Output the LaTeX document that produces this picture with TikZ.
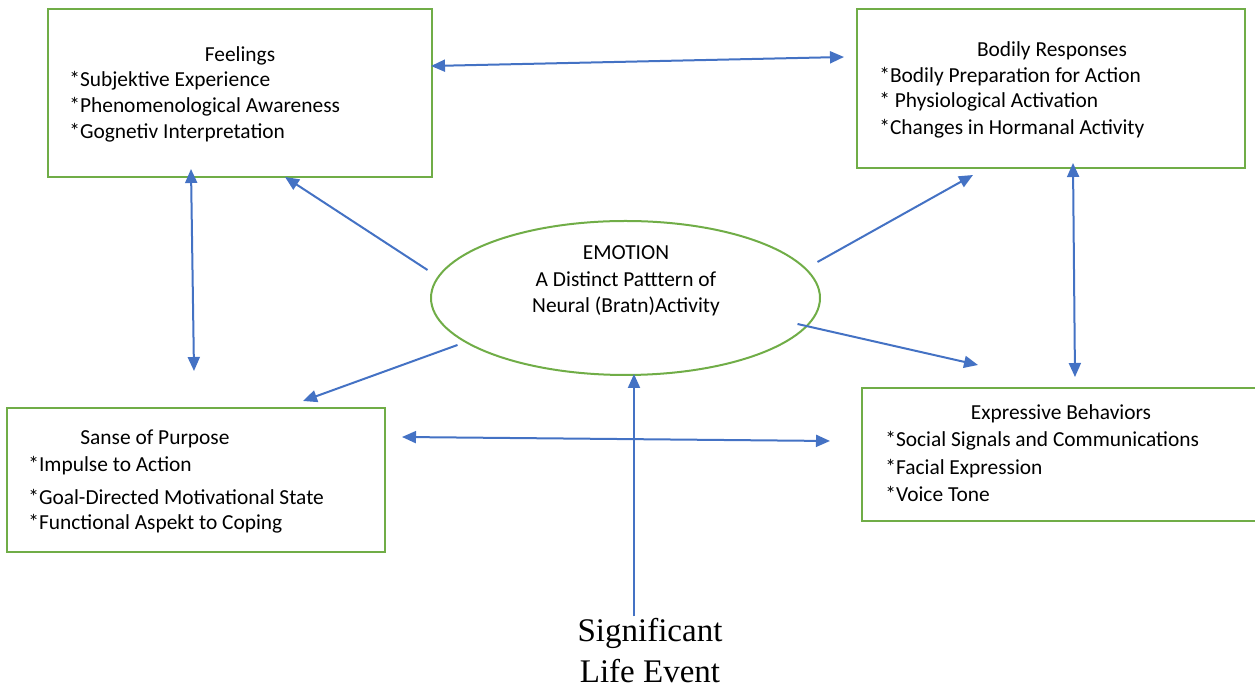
\documentclass[tikz,border=0pt]{standalone}
\usepackage{fontspec}
\setmainfont{Carlito}
\newfontfamily\eventfont{Liberation Serif}
\usetikzlibrary{shapes.geometric, arrows.meta, positioning, calc}
\definecolor{boxgreen}{RGB}{112,173,71}
\definecolor{arrowblue}{RGB}{68,114,196}

\begin{document}
\begin{tikzpicture}[x=0.5pt, y=-0.5pt, >={Triangle[length=7pt,width=6pt]},
	box/.style={draw=boxgreen, line width=1pt, rectangle, inner sep=0pt},
	txt/.style={inner sep=0pt, font=\fontsize{10.7}{12}\selectfont},
	link/.style={draw=arrowblue, line width=1pt}]
		\useasboundingbox (0,0) rectangle (1255,688);
		% boxes
		\node [box, minimum width=192pt, minimum height=84pt] (feel) at (240,93) {};
		\node [box, minimum width=194pt, minimum height=79.5pt] (body) at (1051,88.5) {};
		\node [box, minimum width=189pt, minimum height=72pt] (purp) at (196,480) {};
		\node [box, minimum width=198pt, minimum height=66.5pt] (expr) at (1060,454.5) {};
		\node [draw=boxgreen, line width=1pt, ellipse, inner sep=0pt, minimum width=194.5pt, minimum height=77pt] (emo) at (625.5,298) {};
		
		\node [txt, anchor=base] (feelt) at (240,62) {Feelings};
		\node [txt, anchor=base west] (feel1) at (69,87) {*Subjektive Experience};
		\node [txt, anchor=base west] (feel2) at (69,113) {*Phenomenological Awareness};
		\node [txt, anchor=base west] (feel3) at (69,139) {*Gognetiv Interpretation};
		
		\node [txt, anchor=base] (bodyt) at (1052,57) {Bodily Responses};
		\node [txt, anchor=base west] (body1) at (879,83) {*Bodily Preparation for Action};
		\node [txt, anchor=base west] (body2) at (879,108) {* Physiological Activation};
		\node [txt, anchor=base west] (body3) at (879,135) {*Changes in Hormanal Activity};
		
		\node [txt, anchor=base west] (purpt) at (80,445) {Sanse of Purpose};
		\node [txt, anchor=base west] (purp1) at (28,472) {*Impulse to Action};
		\node [txt, anchor=base west] (purp2) at (28,505) {*Goal-Directed Motivational State};
		\node [txt, anchor=base west] (purp3) at (28,530) {*Functional Aspekt to Coping};
		
		\node [txt, anchor=base] (exprt) at (1061,420) {Expressive Behaviors};
		\node [txt, anchor=base west] (expr1) at (885,447) {*Social Signals and Communications};
		\node [txt, anchor=base west] (expr2) at (885,475) {*Facial Expression};
		\node [txt, anchor=base west] (expr3) at (885,502) {*Voice Tone};
		
		\node [txt, anchor=base] (emot) at (626,260) {EMOTION};
		\node [txt, anchor=base] (emo1) at (626,287) {A Distinct Patttern of};
		\node [txt, anchor=base] (emo2) at (626,313) {Neural (Bratn)Activity};
		
		\node [inner sep=0pt, anchor=base, font=\eventfont\fontsize{16.5}{19}\selectfont] (life1) at (650,642) {Significant};
		\node [inner sep=0pt, anchor=base, font=\eventfont\fontsize{16.5}{19}\selectfont] (life2) at (650,683) {Life Event};
		
		% connectors
		\draw [link, <->] ($(feel.east)+(-2,-27)$) -- ($(body.west)+(-12,-31.5)$);
		\draw [link, <->] ($(feel.south)+(-49,-9)$) -- ($(purp.north)+(-2,-36)$);
		\draw [link, <->] ($(body.south)+(22,-6)$) -- ($(expr.north)+(15,-10)$);
		\draw [link, <->] ($(purp.east)+(16,-43)$) -- ($(expr.west)+(-31,-13.5)$);
		\draw [link, ->] ($(emo.center)+(-198,-28)$) -- ($(feel.south)+(45,-1)$);
		\draw [link, ->] ($(emo.center)+(192,-36)$) -- ($(body.south)+(-78,6)$);
		\draw [link, ->] ($(emo.center)+(172,26)$) -- ($(expr.north)+(-82,-22)$);
		\draw [link, ->] ($(emo.center)+(-168,47)$) -- ($(purp.north)+(107,-6)$);
		\draw [link, ->] ($(life1.north)+(-16,-2)$) -- ($(emo.south)+(8.5,-2)$);
	\end{tikzpicture}
\end{document}
